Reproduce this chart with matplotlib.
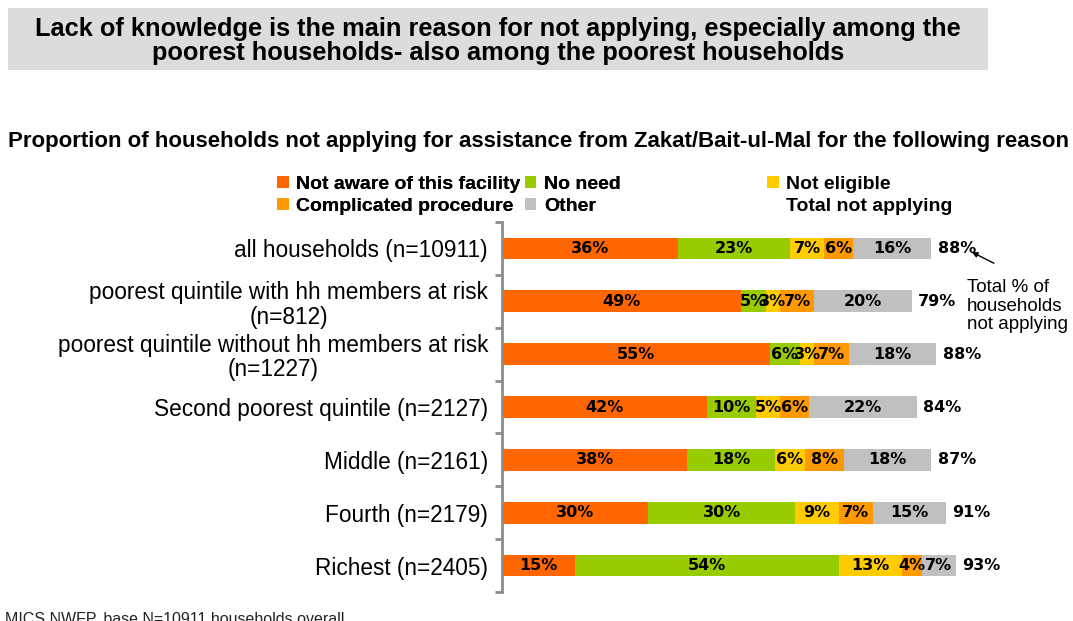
import matplotlib.pyplot as plt
from matplotlib.patches import Rectangle
import numpy as np

plt.rcParams['font.family'] = ['Liberation Sans', 'DejaVu Sans']

groups = ["all households (n=10911)",
          "poorest quintile with hh members at risk\n(n=812)",
          "poorest quintile without hh members at risk\n(n=1227)",
          "Second poorest quintile (n=2127)",
          "Middle (n=2161)",
          "Fourth (n=2179)",
          "Richest (n=2405)"]

not_aware = [36, 49, 55, 42, 38, 30, 15]
no_need = [23, 5, 6, 10, 18, 30, 54]
not_eligible = [7, 3, 3, 5, 6, 9, 13]
complicated = [6, 7, 7, 6, 8, 7, 4]
other = [16, 20, 18, 22, 18, 15, 7]
total_not_applying = [88, 79, 88, 84, 87, 91, 93]

series = [
    ("Not aware of this facility", not_aware, "#FF6600"),
    ("No need", no_need, "#99CC00"),
    ("Not eligible", not_eligible, "#FFCC00"),
    ("Complicated procedure", complicated, "#FF9900"),
    ("Other", other, "#C0C0C0"),
]

# wide bold face for the numbers on the bars
num_font = dict(family=['DejaVu Sans'], fontsize=11.5, fontweight='bold', color='black')

fig = plt.figure(figsize=(10.73, 6.21), dpi=100)
ax = fig.add_axes([502 / 1073, 29 / 621, 571 / 1073, 370 / 621])

y = np.arange(len(groups))
left = np.zeros(len(groups))
handles = {}
for name, vals, col in series:
    vals = np.array(vals, dtype=float)
    bars = ax.barh(y, vals, left=left, height=0.41, color=col, label=name)
    handles[name] = bars
    for yi, l, v in zip(y, left, vals):
        ax.text(l + v / 2, yi, f"{int(v)}%", ha='center', va='center', **num_font)
    left += vals

# totals written just past the end of each bar
for yi, end, tot in zip(y, left, total_not_applying):
    ax.text(end + 1.3, yi, f"{tot}%", ha='left', va='center', **num_font)

ax.set_xlim(0, 117)
ax.set_ylim(len(groups) - 0.5, -0.5)
ax.set_xticks([])
ax.set_yticks(np.arange(-0.5, len(groups)), labels=[''] * (len(groups) + 1))
ax.set_yticks(y, labels=groups, minor=True)
ax.tick_params(axis='y', which='major', length=5, width=2, color='#8C8C8C', direction='out')
ax.tick_params(axis='y', which='minor', length=0, pad=10, labelsize=16.3)
for lbl in ax.get_yticklabels(minor=True):
    lbl.set_multialignment('center')
    lbl.set_linespacing(1.1)
for s in ['top', 'right', 'bottom']:
    ax.spines[s].set_visible(False)
ax.spines['left'].set_color('#8C8C8C')
ax.spines['left'].set_linewidth(2)

# note pointing at the totals column
ax.text(95.3, 1.09, "Total % of\nhouseholds\nnot applying", ha='left', va='center',
        fontsize=13.5, linespacing=1.1, color='black')
ax.annotate("", xy=(96.3, 0.07), xytext=(100.8, 0.28),
            arrowprops=dict(arrowstyle='-|>', color='black', lw=1, mutation_scale=8,
                            shrinkA=0, shrinkB=0))

# legend: first two columns, then a separate column
leg_kw = dict(frameon=False, prop={'weight': 'bold', 'size': 14},
              handlelength=0.6, handleheight=0.6, handletextpad=0.4,
              labelspacing=0.25, borderpad=0, borderaxespad=0)
leg1 = fig.legend([handles["Not aware of this facility"], handles["Complicated procedure"],
                   handles["No need"], handles["Other"]],
                  ["Not aware of this facility", "Complicated procedure", "No need", "Other"],
                  ncol=2, loc='upper left', bbox_to_anchor=(277 / 1073, 1 - 176 / 621),
                  columnspacing=0.2, **leg_kw)
blank = Rectangle((0, 0), 1, 1, fill=False, edgecolor='none')
leg2 = fig.legend([handles["Not eligible"], blank], ["Not eligible", "Total not applying"],
                  ncol=1, loc='upper left', bbox_to_anchor=(767 / 1073, 1 - 176 / 621),
                  **leg_kw)
fig.add_artist(leg1)

# header box
fig.patches.append(Rectangle((8 / 1073, 1 - 70 / 621), 980 / 1073, 62 / 621,
                             transform=fig.transFigure, facecolor='#DCDCDC',
                             edgecolor='none', zorder=0))
fig.text(498 / 1073, 1 - 41 / 621,
         "Lack of knowledge is the main reason for not applying, especially among the\n"
         "poorest households- also among the poorest households",
         ha='center', va='center', fontsize=18.3, fontweight='bold', linespacing=1.0)

fig.text(8 / 1073, 1 - 142 / 621,
         "Proportion of households not applying for assistance from Zakat/Bait-ul-Mal for the following reason",
         ha='left', va='center', fontsize=16, fontweight='bold')

fig.text(5 / 1073, 1 - 627 / 621, "MICS NWFP, base N=10911 households overall",
         ha='left', va='bottom', fontsize=11.5, color='#222222')

fig.savefig('out.png', dpi=100)
